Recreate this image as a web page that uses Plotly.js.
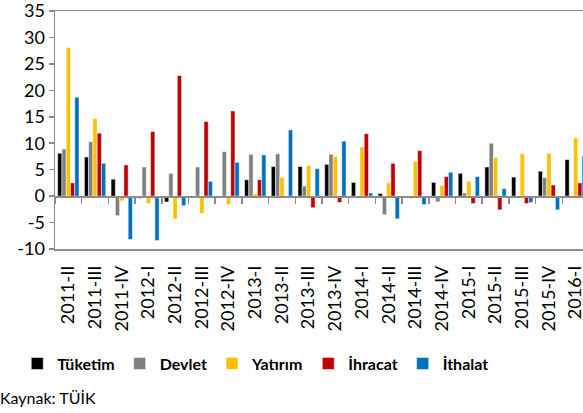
<!DOCTYPE html>
<html><head><meta charset="utf-8">
<script src="https://cdn.plot.ly/plotly-3.0.1.min.js"></script>
<style>html,body{margin:0;padding:0;overflow:hidden;background:#fff}#chart{width:589px;height:413px}</style>
</head><body><div id="chart"></div>
<script>
const categories = ['2011-II','2011-III','2011-IV','2012-I','2012-II','2012-III','2012-IV','2013-I','2013-II','2013-III','2013-IV','2014-I','2014-II','2014-III','2014-IV','2015-I','2015-II','2015-III','2015-IV','2016-I'];
const tuketim = [8.1, 7.4, 3.2, -0.4, -1.1, -0.2, -0.1, 3.1, 5.6, 5.6, 6.0, 2.6, 0.5, 0.0, 2.6, 4.3, 5.5, 3.6, 4.7, 6.9];
const devlet  = [8.9, 10.3, -3.7, 5.5, 4.3, 5.5, 8.4, 7.9, 8.0, 1.9, 7.9, -0.3, -3.5, -0.4, -1.1, 0.6, 10.0, 0.0, 3.5, 0.0];
const yatirim = [28.1, 14.7, -0.9, -1.4, -4.3, -3.3, -1.6, 0.4, 3.5, 5.8, 7.5, 9.3, 2.5, 6.6, 2.0, 2.8, 7.3, 8.0, 8.1, 11.0];
const ihracat = [2.5, 11.9, 5.9, 12.2, 22.8, 14.1, 16.1, 3.1, 0.0, -2.2, -1.2, 11.8, 6.2, 8.6, 3.7, -1.4, -2.6, -1.4, 2.1, 2.5];
const ithalat = [18.7, 6.2, -8.2, -8.4, -1.8, 2.8, 6.4, 7.8, 12.5, 5.2, 10.4, 0.6, -4.3, -1.6, 4.5, 3.7, 1.4, -1.2, -2.6, 7.6];
const seriesNames = ['Tüketim','Devlet','Yatırım','İhracat','İthalat'];
const seriesColors = ['#000000','#808080','#FFC000','#C00000','#0070C0'];
const seriesData = [tuketim, devlet, yatirim, ihracat, ithalat];
const yTickVals = [-10, -5, 0, 5, 10, 15, 20, 25, 30, 35];

const FONT = 'Lato, "Open Sans", sans-serif';
const GRAY = '#8c8c8c';
const yMin = -10, yMax = 35;

const traces = seriesData.map((vals, i) => ({
  type: 'bar', x: categories, y: vals, name: seriesNames[i],
  marker: {color: seriesColors[i], line: {color: '#ffffff', width: 0.5}},
  hoverinfo: 'x+y+name'
}));
// helper trace so the zero-line axis (ticks at category boundaries) exists
traces.push({type: 'bar', x: categories, y: categories.map(() => null), xaxis: 'x2',
  showlegend: false, hoverinfo: 'skip'});

const layout = {
  width: 589, height: 413,
  margin: {l: 55, r: 0, t: 11, b: 164},
  paper_bgcolor: '#ffffff', plot_bgcolor: '#ffffff',
  barmode: 'group', bargap: 0.2, bargroupgap: 0,
  font: {family: FONT, color: '#000000'},
  xaxis: {
    type: 'category', range: [-0.5, categories.length - 0.5],
    showline: true, mirror: true, linecolor: GRAY, linewidth: 1.5,
    ticks: '', tickangle: -90, ticklabelstandoff: 8,
    tickfont: {family: FONT, size: 18, color: '#000000'},
    showgrid: false, zeroline: false, fixedrange: true
  },
  xaxis2: {
    type: 'category', overlaying: 'x', anchor: 'free',
    position: (0 - yMin) / (yMax - yMin),
    range: [-0.5, categories.length - 0.5],
    showline: true, linecolor: GRAY, linewidth: 1.5,
    ticks: 'outside', tickson: 'boundaries', ticklen: 6, tickwidth: 1.5, tickcolor: GRAY,
    showticklabels: false, showgrid: false, zeroline: false
  },
  yaxis: {
    range: [yMin, yMax], tickmode: 'array', tickvals: yTickVals, ticktext: yTickVals.map(String),
    showline: true, mirror: true, linecolor: GRAY, linewidth: 1.5,
    ticks: 'outside', ticklen: 5, tickwidth: 1.5, tickcolor: GRAY,
    ticklabeloverflow: 'allow',
    tickfont: {family: FONT, size: 18, color: '#000000'},
    showgrid: false, zeroline: false
  },
  showlegend: true,
  legend: {
    orientation: 'h', x: 0.375, xanchor: 'center', y: -0.41, yanchor: 'top',
    font: {family: FONT, size: 16, color: '#000000', weight: 'bold'},
    itemwidth: 30, tracegroupgap: 0
  },
  annotations: [{
    text: 'Kaynak: TÜİK', xref: 'paper', yref: 'paper',
    x: -0.106, xanchor: 'left', y: -0.625, yanchor: 'middle',
    showarrow: false, font: {family: FONT, size: 16, color: '#000000'}
  }]
};
Plotly.newPlot('chart', traces, layout, {displayModeBar: false, staticPlot: true});
</script></body></html>
